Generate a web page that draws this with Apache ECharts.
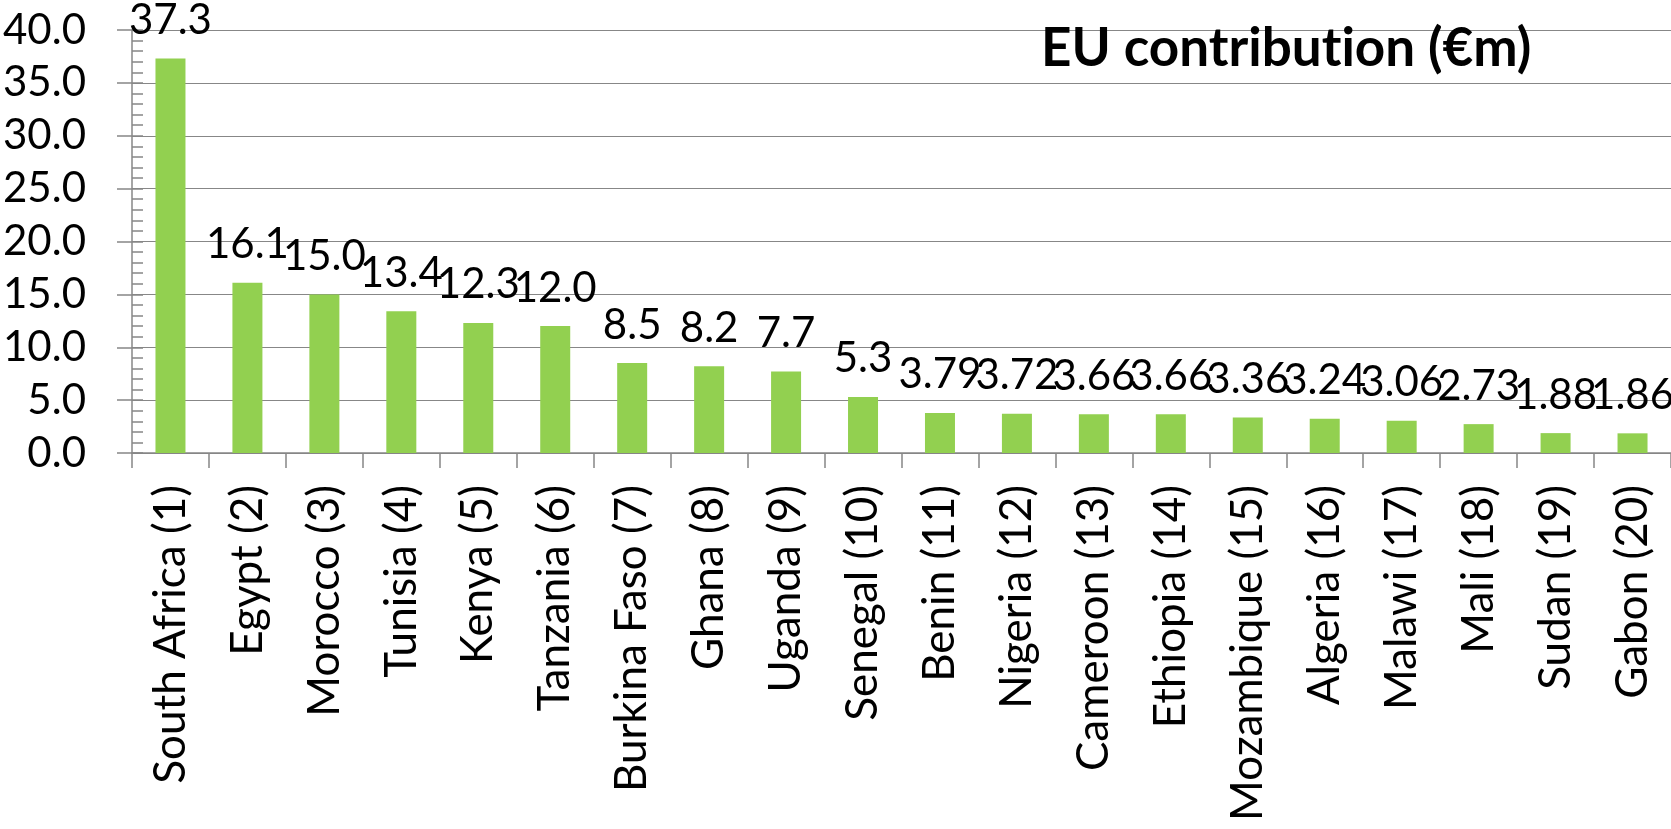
<!DOCTYPE html>
<html>
<head>
<meta charset="utf-8">
<script src="https://cdn.jsdelivr.net/npm/echarts@6/dist/echarts.min.js"></script>
<style>
  html, body { margin: 0; padding: 0; background: #fff; }
  #chart { width: 1671px; height: 829px; }
</style>
</head>
<body>
<div id="chart"></div>
<script>
var countries = ['South Africa (1)', 'Egypt (2)', 'Morocco (3)', 'Tunisia (4)', 'Kenya (5)',
  'Tanzania (6)', 'Burkina Faso (7)', 'Ghana (8)', 'Uganda (9)', 'Senegal (10)',
  'Benin (11)', 'Nigeria (12)', 'Cameroon (13)', 'Ethiopia (14)', 'Mozambique (15)',
  'Algeria (16)', 'Malawi (17)', 'Mali (18)', 'Sudan (19)', 'Gabon (20)'];
var contribution = [37.3, 16.1, 15.0, 13.4, 12.3, 12.0, 8.5, 8.2, 7.7, 5.3,
  3.79, 3.72, 3.66, 3.66, 3.36, 3.24, 3.06, 2.73, 1.88, 1.86];
// the first ten labels have one decimal, the rest two
var labelDecimals = [1, 1, 1, 1, 1, 1, 1, 1, 1, 1, 2, 2, 2, 2, 2, 2, 2, 2, 2, 2];

var axisGray = '#878787';
var font = 'Lato';
var titleStyle = { fontFamily: font, fontWeight: 'bold', fontSize: 53, color: '#000' };

var chart = echarts.init(document.getElementById('chart'));
chart.setOption({
  animation: false,
  title: {
    // split in two rich pieces so Lato does not draw the "ti" ligature
    text: '{t|EU contribut}{t|ion (€m)}',
    left: 1036,
    top: 17,
    textStyle: { fontFamily: font, fontWeight: 'bold', fontSize: 53, color: '#000',
      rich: { t: titleStyle } }
  },
  grid: { left: 132, right: 0, top: 30, bottom: 376, containLabel: false },
  xAxis: {
    type: 'category',
    data: countries,
    axisLine: { lineStyle: { color: axisGray, width: 1.5 } },
    axisTick: { show: true, length: 15, lineStyle: { color: axisGray, width: 1.5 } },
    axisLabel: {
      rotate: 90, interval: 0, margin: 32,
      fontFamily: font, fontSize: 44, color: '#000'
    }
  },
  yAxis: [{
    type: 'value',
    min: 0, max: 40, interval: 5,
    axisLine: { show: true, lineStyle: { color: axisGray, width: 1.5 } },
    axisTick: { show: true, length: 15, lineStyle: { color: axisGray, width: 1.5 } },
    splitLine: { lineStyle: { color: axisGray, width: 1.2 } },
    axisLabel: {
      margin: 46, fontFamily: font, fontSize: 42, color: '#000',
      formatter: function (v) { return v.toFixed(1); }
    }
  }, {
    // inner minor ticks every 1.0
    type: 'value',
    position: 'left',
    min: 0, max: 40, interval: 1,
    axisLine: { show: false },
    axisTick: { show: true, inside: true, length: 11, lineStyle: { color: axisGray, width: 1.5 } },
    splitLine: { show: false },
    axisLabel: { show: false }
  }],
  series: [{
    type: 'bar',
    data: contribution,
    barWidth: 30,
    itemStyle: { color: '#92D050' },
    label: {
      show: true,
      position: 'top',
      distance: 17,
      fontFamily: font,
      fontSize: 42,
      color: '#000',
      formatter: function (p) { return p.value.toFixed(labelDecimals[p.dataIndex]); }
    }
  }]
});
</script>
</body>
</html>
